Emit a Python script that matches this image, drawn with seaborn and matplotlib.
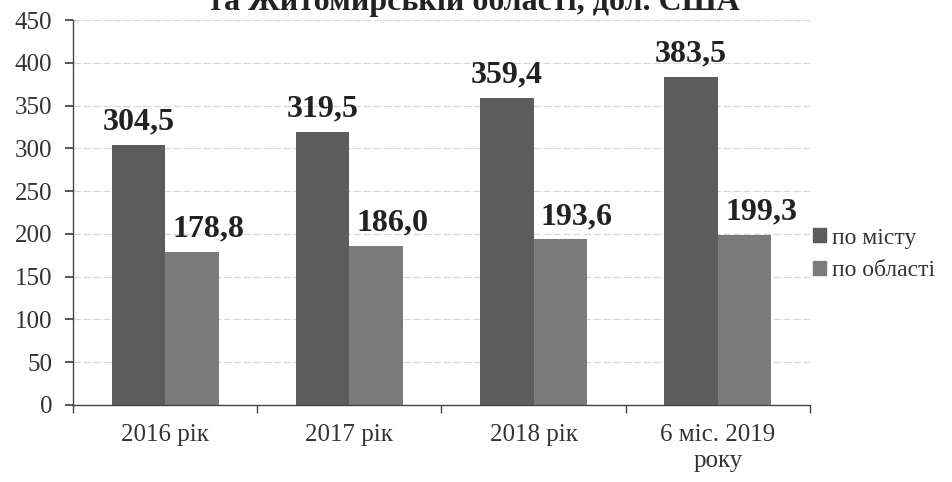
import pandas as pd
import numpy as np
import matplotlib
matplotlib.use("Agg")
import matplotlib.pyplot as plt
import seaborn as sns
from matplotlib.patches import Patch

# Data
periods = ["2016 рік", "2017 рік", "2018 рік", "6 міс. 2019\nроку"]
city_values = [304.5, 319.5, 359.4, 383.5]
region_values = [178.8, 186.0, 193.6, 199.3]
city_labels = ["304,5", "319,5", "359,4", "383,5"]
region_labels = ["178,8", "186,0", "193,6", "199,3"]
series_names = ["по місту", "по області"]

df = pd.DataFrame({
    "period": periods * 2,
    "value": city_values + region_values,
    "series": [series_names[0]] * 4 + [series_names[1]] * 4,
})

sns.set_theme(style="white")
plt.rcParams["font.family"] = ["Liberation Serif", "DejaVu Serif"]

colors = ["#5c5c5c", "#7b7b7b"]

fig = plt.figure(figsize=(9.52, 4.82), dpi=100)
ax = fig.add_axes([0.0767, 0.16, 0.774, 0.798])

sns.barplot(data=df, x="period", y="value", hue="series", palette=colors,
            width=0.58, saturation=1, linewidth=0, ax=ax, legend=False)

ax.set_ylim(0, 450)
ax.set_xlim(-0.5, 3.5)
ax.set_yticks(np.arange(0, 451, 50))
ax.yaxis.grid(True, color="#d8d8d8", linewidth=0.9, linestyle=(0, (6, 2)))
ax.set_axisbelow(True)
for s in ["top", "right"]:
    ax.spines[s].set_visible(False)
for s in ["left", "bottom"]:
    ax.spines[s].set_color("#444444")
    ax.spines[s].set_linewidth(1.0)

ax.set_xlabel("")
ax.set_ylabel("")
ax.set_xticks(range(len(periods)))
ax.set_xticklabels(periods, fontsize=18, color="#333333")
ax.tick_params(axis="x", length=0, pad=14)
ax.set_xticks(np.arange(-0.5, 4, 1), minor=True)
ax.tick_params(axis="x", which="minor", length=6, color="#444444", bottom=True)
ax.tick_params(axis="y", labelsize=18, labelcolor="#333333", length=6,
               color="#444444", left=True, pad=9)

# value labels
bars = ax.patches
city_bars = bars[:4]
region_bars = bars[4:8]
for b, lab in zip(city_bars, city_labels):
    ax.annotate(lab, (b.get_x() + b.get_width() / 2, b.get_height()),
                xytext=(0, 6), textcoords="offset points", ha="center",
                va="bottom", fontsize=23, fontweight="bold", color="#222222")
for b, lab in zip(region_bars, region_labels):
    ax.annotate(lab, (b.get_x() + b.get_width() / 2, b.get_height()),
                xytext=(12, 6), textcoords="offset points", ha="center",
                va="bottom", fontsize=23, fontweight="bold", color="#222222")

handles = [Patch(facecolor=c, edgecolor=c) for c in colors]
fig.legend(handles, series_names, loc="center left",
           bbox_to_anchor=(0.832, 0.472), frameon=False, fontsize=17,
           handlelength=0.55, handleheight=0.55, handletextpad=0.25,
           labelspacing=0.5, labelcolor="#333333")

fig.text(0.498, 1 - 10 / 482, "та Житомирській області, дол. США",
         ha="center", va="baseline", fontsize=23, fontweight="bold",
         color="#222222")

fig.savefig("out.png", dpi=100)
